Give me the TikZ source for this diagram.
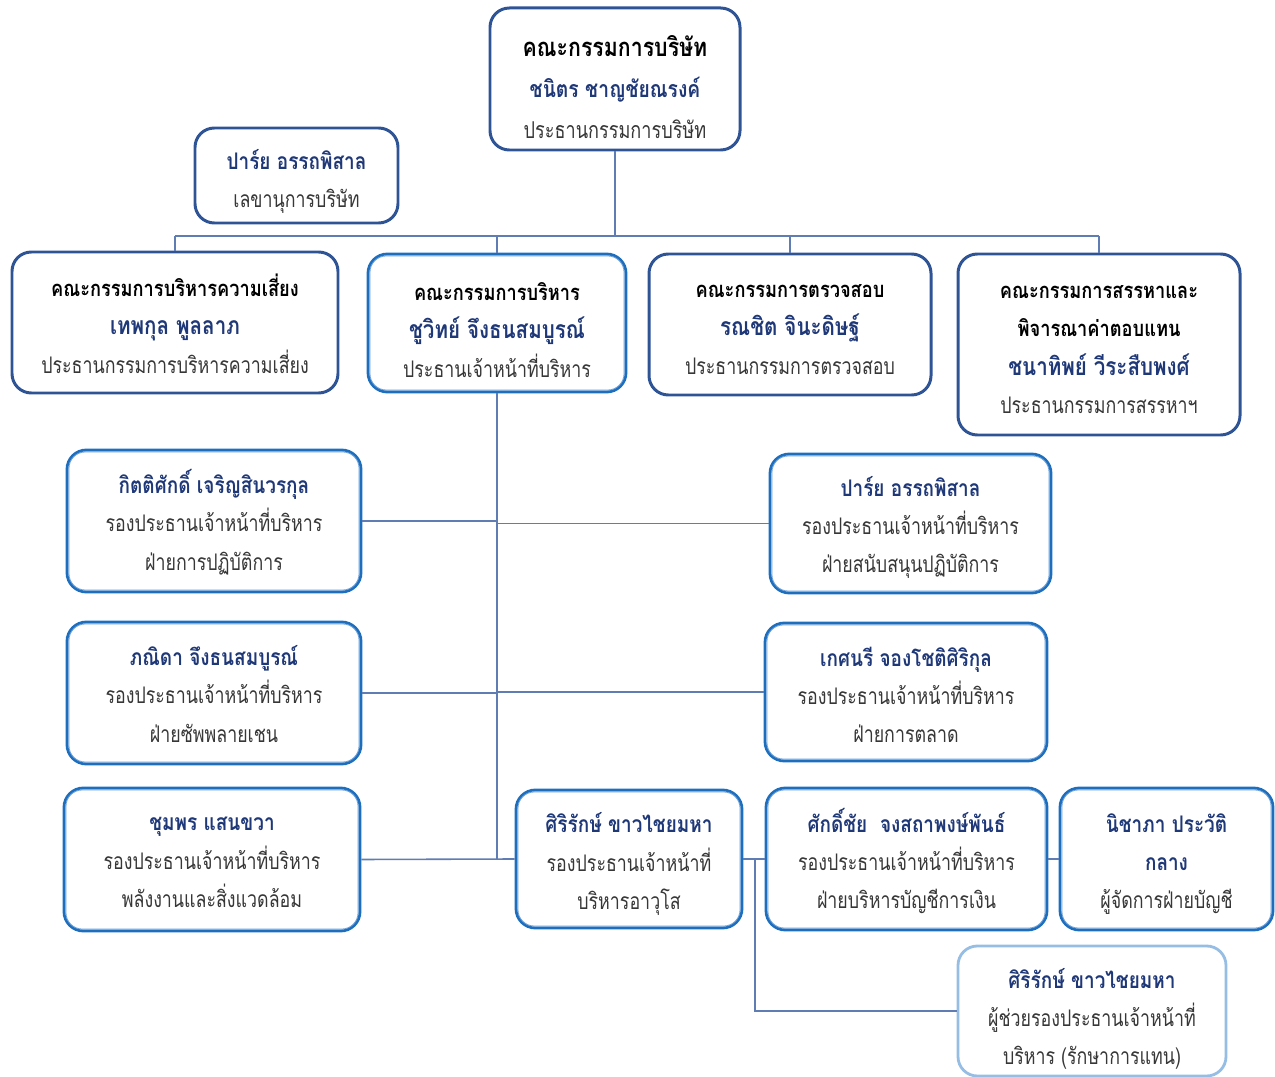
\documentclass[tikz,border=0pt]{standalone}
\usepackage{fontspec}
\newfontfamily\thaifont[Script=Thai, FakeStretch=0.78, BoldFeatures={FakeStretch=0.83}]{Loma}
\usetikzlibrary{calc}
\newdimen\pxu \pxu=0.02cm
\definecolor{boxdark}{RGB}{47,84,150}
\definecolor{vpblue}{RGB}{30,110,190}
\definecolor{vplight}{RGB}{110,160,215}
\definecolor{lightbox}{RGB}{150,190,228}
\definecolor{namecol}{RGB}{31,56,120}
\definecolor{poscol}{RGB}{55,55,55}
\definecolor{linecol}{RGB}{95,125,178}
\definecolor{dashcol}{RGB}{120,140,180}
\newcommand{\ttl}[1]{\textbf{\fontsize{12.5}{21.8}\selectfont #1}}
\newcommand{\nm}[1]{\textcolor{namecol}{\textbf{#1}}}
\newcommand{\bnm}[1]{\textcolor{namecol}{\textbf{\fontsize{14.1}{22}\selectfont #1}}}
\newcommand{\ps}[1]{\textcolor{poscol}{#1}}
\newcommand{\bx}[8]{\node[#2, minimum width=#5\pxu, minimum height=#6\pxu] (#1) at (#3,#4) {};
  \node[txt] (#1t) at ([yshift=-#7\pxu]#1.center) {#8};}
\tikzset{
  box/.style={draw=boxdark, line width=1.7pt, rounded corners=11pt, fill=white, inner sep=0pt},
  vpbox/.style={box, draw=vpblue, line width=1.6pt},
  litebox/.style={box, draw=lightbox, line width=1.6pt},
  txt/.style={align=center, font=\thaifont\fontsize{13}{21.8}\selectfont, inner sep=0pt},
  boardtxt/.style={txt, font=\thaifont\fontsize{13.2}{23.2}\selectfont},
  conn/.style={draw=linecol, line width=0.9pt},
  dashconn/.style={draw=dashcol, line width=0.8pt, dashed}
}
\begin{document}
\begin{tikzpicture}[x=0.02cm, y=-0.02cm]
\useasboundingbox (0,0) rectangle (1275,1077);
\coordinate (bus) at (615,236);
\coordinate (busL) at (175,236);
\coordinate (busR) at (1099,236);
\coordinate (spine) at (497,859);
\coordinate (jn) at (755,859);

\node[box, minimum width=250\pxu, minimum height=142\pxu] (board) at (615,79) {};
\node[boardtxt] (boardt) at ([yshift=-8\pxu]board.center) {\textbf{\fontsize{14.6}{23.2}\selectfont คณะกรรมการบริษัท}\\\nm{ชนิตร ชาญชัยณรงค์}\\\ps{ประธานกรรมการบริษัท}};
\bx{sec}{box}{296.5}{175.5}{203}{95}{6}{\nm{ปาร์ย อรรถพิสาล}\\\ps{เลขานุการบริษัท}}
\bx{risk}{box}{175}{322.5}{326}{141}{1}{\ttl{คณะกรรมการบริหารความเสี่ยง}\\\bnm{เทพกุล พูลลาภ}\\\ps{ประธานกรรมการบริหารความเสี่ยง}}
\bx{exec}{vpbox}{497}{323}{258}{138}{7}{\ttl{คณะกรรมการบริหาร}\\\bnm{ชูวิทย์ จึงธนสมบูรณ์}\\\ps{ประธานเจ้าหน้าที่บริหาร}}
\bx{audit}{box}{790}{324.5}{282}{141}{5}{\ttl{คณะกรรมการตรวจสอบ}\\\bnm{รณชิต จินะดิษฐ์}\\\ps{ประธานกรรมการตรวจสอบ}}
\bx{nom}{box}{1099}{344.5}{282}{181}{5}{\ttl{คณะกรรมการสรรหาและ}\\\ttl{พิจารณาค่าตอบแทน}\\\bnm{ชนาทิพย์ วีระสืบพงศ์}\\\ps{ประธานกรรมการสรรหาฯ}}

\bx{kit}{vpbox}{214}{521}{294}{142}{1}{\nm{กิตติศักดิ์ เจริญสินวรกุล}\\\ps{รองประธานเจ้าหน้าที่บริหาร}\\\ps{ฝ่ายการปฏิบัติการ}}
\bx{pha}{vpbox}{214}{693}{294}{142}{1}{\nm{ภณิดา จึงธนสมบูรณ์}\\\ps{รองประธานเจ้าหน้าที่บริหาร}\\\ps{ฝ่ายซัพพลายเชน}}
\bx{chum}{vpbox}{212}{859.5}{296}{143}{3}{\nm{ชุมพร แสนขวา}\\\ps{รองประธานเจ้าหน้าที่บริหาร}\\\ps{พลังงานและสิ่งแวดล้อม}}
\bx{par}{vpbox}{910.5}{523.5}{281}{139}{4}{\nm{ปาร์ย อรรถพิสาล}\\\ps{รองประธานเจ้าหน้าที่บริหาร}\\\ps{ฝ่ายสนับสนุนปฏิบัติการ}}
\bx{ket}{vpbox}{906}{692}{282}{138}{3}{\nm{เกศนรี จองโชติศิริกุล}\\\ps{รองประธานเจ้าหน้าที่บริหาร}\\\ps{ฝ่ายการตลาด}}
\bx{siri}{vpbox}{629}{859}{226}{138}{5}{\nm{ศิริรักษ์ ขาวไชยมหา}\\\ps{รองประธานเจ้าหน้าที่}\\\ps{บริหารอาวุโส}}
\bx{sak}{vpbox}{906.5}{859}{281}{142}{2}{\nm{ศักดิ์ชัย\ \ จงสถาพงษ์พันธ์}\\\ps{รองประธานเจ้าหน้าที่บริหาร}\\\ps{ฝ่ายบริหารบัญชีการเงิน}}
\bx{nich}{vpbox}{1166.5}{859}{213}{142}{5}{\nm{นิชาภา ประวัติ}\\\nm{กลาง}\\\ps{ผู้จัดการฝ่ายบัญชี}}
\bx{siri2}{litebox}{1092}{1011}{268}{130}{8}{\nm{ศิริรักษ์ ขาวไชยมหา}\\\ps{ผู้ช่วยรองประธานเจ้าหน้าที่}\\\ps{บริหาร (รักษาการแทน)}}

\foreach \n in {exec,kit,pha,chum,par,ket,siri,sak,nich}
  \draw[vplight, line width=0.5pt, rounded corners=9.3pt]
    ($(\n.north west)+(1.9pt,-1.9pt)$) rectangle ($(\n.south east)+(-1.9pt,1.9pt)$);

\draw[conn] (board.south) -- (bus);
\draw[conn] (busL) -- (busR);
\draw[conn] (busL) -- (risk.north);
\draw[conn] (exec.north |- bus) -- (exec.north);
\draw[conn] (audit.north |- bus) -- (audit.north);
\draw[conn] (busR) -- (nom.north);
\draw[dashconn] ($(sec.east)+(0,7)$) -- ($(sec.east)+(0,7)$ -| board.south);
\draw[conn] (exec.south) -- (spine);
\draw[conn] (kit.east) -- (kit.east -| exec.south);
\draw[conn] (par.west) -- (par.west -| exec.south);
\draw[conn] (pha.east) -- (pha.east -| exec.south);
\draw[conn] (ket.west) -- (ket.west -| exec.south);
\draw[conn] (chum.east) -- (siri.west);
\draw[conn] (siri.east) -- (sak.west);
\draw[conn] (sak.east) -- (nich.west);
\draw[conn] (jn) -- (jn |- siri2.west) -- (siri2.west);
\end{tikzpicture}
\end{document}
